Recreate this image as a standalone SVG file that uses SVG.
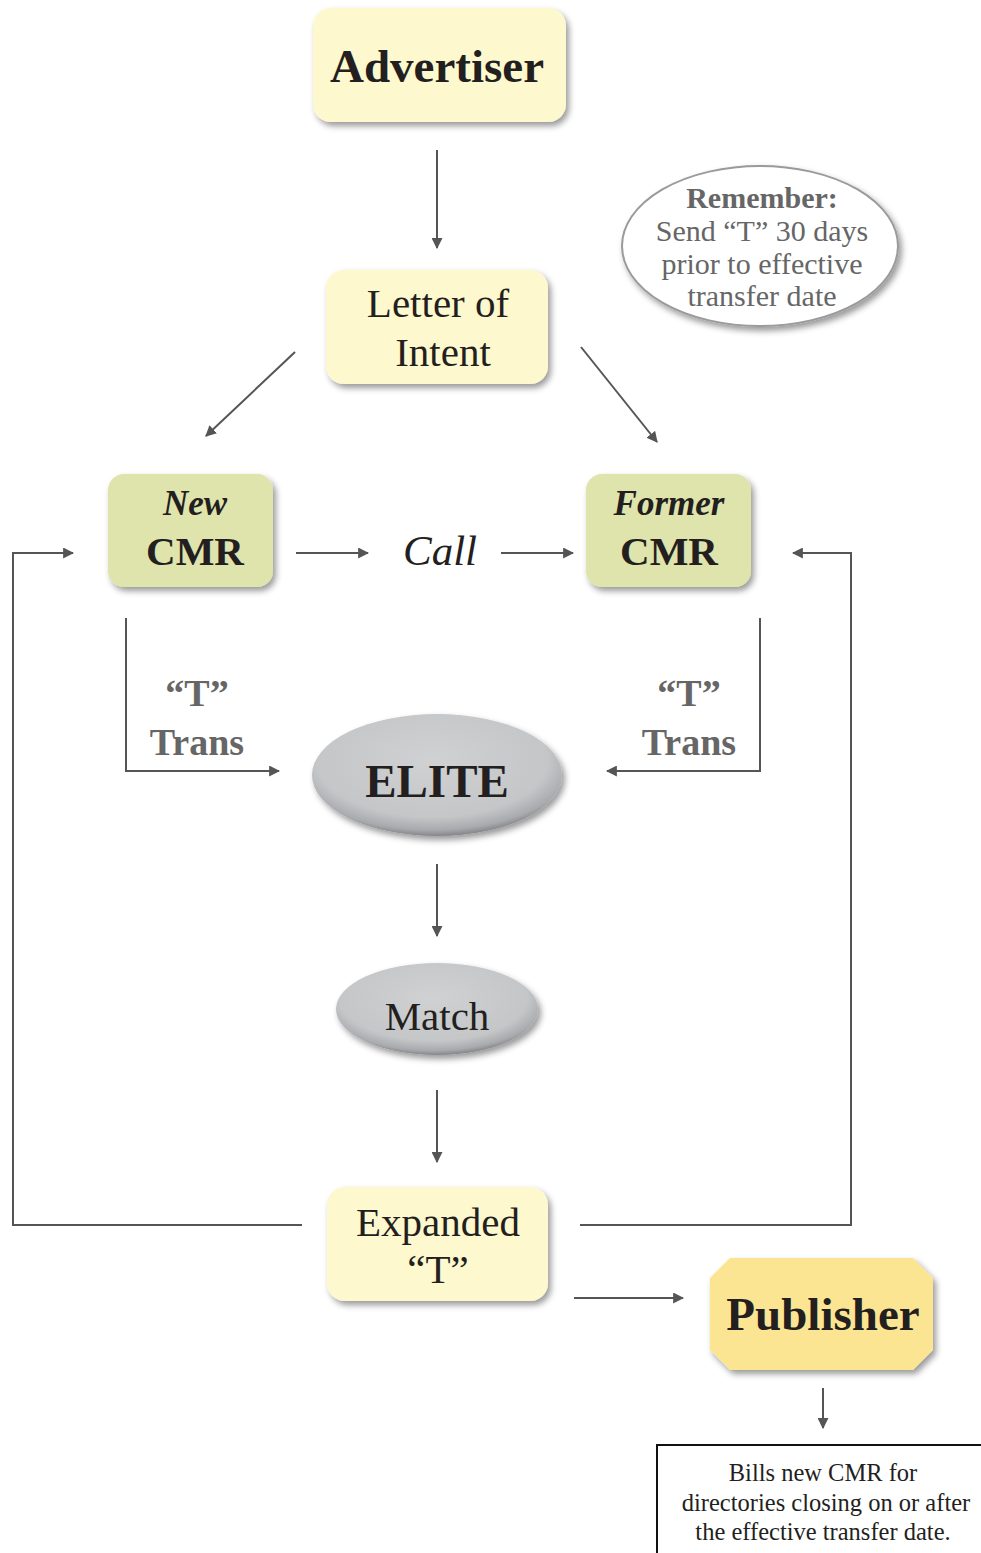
<svg xmlns="http://www.w3.org/2000/svg" width="981" height="1553" viewBox="0 0 981 1553">
  <style>
    .t { font-family: "Liberation Serif", "Times New Roman", serif; text-anchor: middle; }
    .dark { fill: #231f20; }
    .grey { fill: #666666; }
    .b { font-weight: bold; }
    .i { font-style: italic; }
    .wire { fill: none; stroke: #555555; stroke-width: 2; }
    .yellow { fill: #fdf8cd; }
    .green { fill: #dfe3ac; }
  </style>
  <defs>
    <filter id="shadow" x="-20%" y="-20%" width="150%" height="160%">
      <feDropShadow dx="3" dy="4" stdDeviation="3" flood-color="#000000" flood-opacity="0.4"/>
    </filter>
    <radialGradient id="pill" cx="0.48" cy="0.38" r="0.62">
      <stop offset="0" stop-color="#d0d1d3"/>
      <stop offset="0.75" stop-color="#c5c6c8"/>
      <stop offset="0.92" stop-color="#a9aaad"/>
      <stop offset="1" stop-color="#85868a"/>
    </radialGradient>
    <marker id="arrow" viewBox="0 0 10 10" refX="9" refY="5" markerWidth="11" markerHeight="11" markerUnits="userSpaceOnUse" orient="auto">
      <path d="M0,0 L10,5 L0,10 Z" fill="#555555"/>
    </marker>
  </defs>

  <!-- connectors -->
  <g id="connectors">
    <line class="wire" x1="437" y1="150" x2="437" y2="248" marker-end="url(#arrow)"/>
    <line class="wire" x1="295" y1="352" x2="206" y2="436" marker-end="url(#arrow)"/>
    <line class="wire" x1="581" y1="347" x2="657" y2="442" marker-end="url(#arrow)"/>
    <line class="wire" x1="296" y1="553" x2="368" y2="553" marker-end="url(#arrow)"/>
    <line class="wire" x1="501" y1="553" x2="573" y2="553" marker-end="url(#arrow)"/>
    <polyline class="wire" points="302,1225 13,1225 13,553 73,553" marker-end="url(#arrow)"/>
    <polyline class="wire" points="580,1225 851,1225 851,553 793,553" marker-end="url(#arrow)"/>
    <polyline class="wire" points="126,618 126,771 279,771" marker-end="url(#arrow)"/>
    <polyline class="wire" points="760,618 760,771 607,771" marker-end="url(#arrow)"/>
    <line class="wire" x1="437" y1="864" x2="437" y2="936" marker-end="url(#arrow)"/>
    <line class="wire" x1="437" y1="1090" x2="437" y2="1162" marker-end="url(#arrow)"/>
    <line class="wire" x1="574" y1="1298" x2="683" y2="1298" marker-end="url(#arrow)"/>
    <line class="wire" x1="823" y1="1388" x2="823" y2="1428" marker-end="url(#arrow)"/>
  </g>

  <g id="advertiser">
    <rect class="yellow" x="313" y="8" width="253" height="114" rx="18" filter="url(#shadow)"/>
    <text class="t dark b" x="437" y="82" font-size="47">Advertiser</text>
  </g>

  <g id="letter-of-intent">
    <rect class="yellow" x="326" y="270" width="222" height="114" rx="18" filter="url(#shadow)"/>
    <text class="t dark" x="438" y="317" font-size="41">Letter of</text>
    <text class="t dark" x="443" y="366" font-size="41">Intent</text>
  </g>

  <g id="remember">
    <ellipse cx="760" cy="246" rx="138" ry="80" fill="#ffffff" stroke="#9a9a9a" stroke-width="2" filter="url(#shadow)"/>
    <text class="t grey b" x="762" y="208" font-size="30">Remember:</text>
    <text class="t grey" x="762" y="241" font-size="30">Send “T” 30 days</text>
    <text class="t grey" x="762" y="274" font-size="30">prior to effective</text>
    <text class="t grey" x="762" y="306" font-size="30">transfer date</text>
  </g>

  <g id="new-cmr">
    <rect class="green" x="108" y="474" width="165" height="113" rx="16" filter="url(#shadow)"/>
    <text class="t dark b i" x="195" y="515" font-size="35">New</text>
    <text class="t dark b" x="195" y="565" font-size="41">CMR</text>
  </g>

  <g id="call">
    <text class="t dark i" x="440" y="565" font-size="43">Call</text>
  </g>

  <g id="former-cmr">
    <rect class="green" x="586" y="474" width="165" height="113" rx="16" filter="url(#shadow)"/>
    <text class="t dark b i" x="669" y="515" font-size="35">Former</text>
    <text class="t dark b" x="669" y="565" font-size="41">CMR</text>
  </g>

  <g id="trans-left">
    <text class="t grey b" x="197" y="706" font-size="38">“T”</text>
    <text class="t grey b" x="197" y="755" font-size="38">Trans</text>
  </g>

  <g id="trans-right">
    <text class="t grey b" x="689" y="706" font-size="38">“T”</text>
    <text class="t grey b" x="689" y="755" font-size="38">Trans</text>
  </g>

  <g id="elite">
    <ellipse cx="437" cy="775" rx="125" ry="61" fill="url(#pill)" filter="url(#shadow)"/>
    <text class="t dark b" x="437" y="797" font-size="47">ELITE</text>
  </g>

  <g id="match">
    <ellipse cx="437" cy="1009" rx="101" ry="46" fill="url(#pill)" filter="url(#shadow)"/>
    <text class="t dark" x="437" y="1030" font-size="41">Match</text>
  </g>

  <g id="expanded-t">
    <rect class="yellow" x="327" y="1187" width="221" height="114" rx="18" filter="url(#shadow)"/>
    <text class="t dark" x="438" y="1236" font-size="41">Expanded</text>
    <text class="t dark" x="438" y="1283" font-size="41">“T”</text>
  </g>

  <g id="publisher">
    <polygon points="730,1258 913,1258 933,1278 933,1350 913,1370 730,1370 710,1350 710,1278" fill="#fce592" filter="url(#shadow)"/>
    <text class="t dark b" x="823" y="1330" font-size="47">Publisher</text>
  </g>

  <g id="billing-note">
    <rect x="657" y="1445" width="340" height="130" fill="#ffffff" stroke="#111111" stroke-width="2"/>
    <text class="t dark" x="823" y="1481" font-size="24.5">Bills new CMR for</text>
    <text class="t dark" x="826" y="1511" font-size="24.5">directories closing on or after</text>
    <text class="t dark" x="823" y="1540" font-size="24.5">the effective transfer date.</text>
  </g>
</svg>
